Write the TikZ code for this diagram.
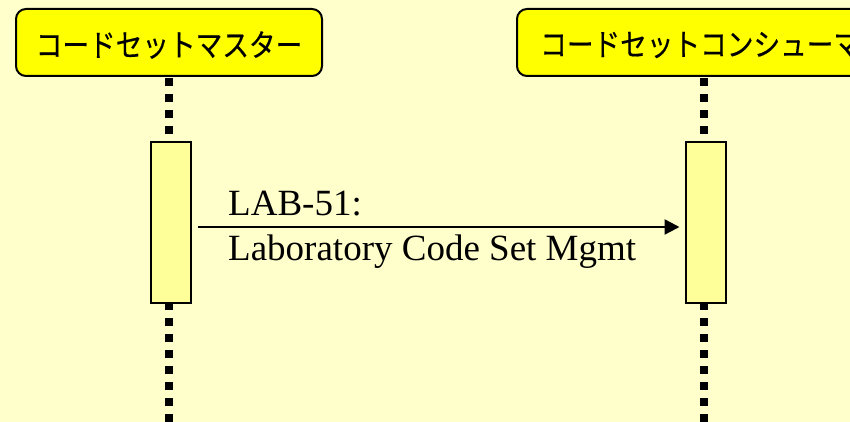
\documentclass[tikz,border=0pt]{standalone}
\usepackage{fontspec}
\setmainfont{Liberation Serif}
\newfontfamily\jpfont[FakeStretch=0.86,FakeBold=0.4]{Noto Sans CJK JP}
\usetikzlibrary{arrows.meta}
\definecolor{bgcream}{HTML}{FFFFCC}
\definecolor{hdryellow}{HTML}{FFFF00}
\definecolor{actyellow}{HTML}{FFFF99}
\tikzset{
  header/.style={draw=black, line width=2pt, fill=hdryellow, rounded corners=10pt,
    inner sep=0pt, minimum height=67pt},
  hdrtext/.style={font=\jpfont\fontsize{31}{34}\selectfont, inner sep=0pt},
  lifeline/.style={line width=8pt, dash pattern=on 8pt off 8pt},
  activation/.style={draw=black, line width=2pt, fill=actyellow,
    minimum width=40pt, minimum height=161pt, inner sep=0pt},
  msg/.style={line width=2.5pt, -{Triangle[length=15pt,width=15pt]}},
  msgtext/.style={font=\fontsize{37}{44}\selectfont, inner sep=0pt, anchor=base west}
}
\begin{document}
\begin{tikzpicture}[x=1pt, y=-1pt]
  \useasboundingbox (0,0) rectangle (850,422);
  \clip (0,0) rectangle (850,422);
  \fill[bgcream] (0,0) rectangle (850,422);

  % participant headers
  \node[header, minimum width=306pt] (hdrL) at (169,42.5) {};
  \node[hdrtext] (nameL) at (169,45) {コードセットマスター};
  \node[header, minimum width=380pt] (hdrR) at (707,42.5) {};
  \node[hdrtext, anchor=west] (nameR) at (540,45) {コードセットコンシューマ};

  % lifelines
  \coordinate (endL) at (169,440);
  \coordinate (endR) at (704,440);
  \draw[lifeline] ([yshift=-1pt]hdrL.south) -- (endL);
  \draw[lifeline] ([yshift=-1pt]hdrR.south -| endR) -- (endR);

  % activation bars
  \node[activation] (actL) at (171,222.5) {};
  \node[activation] (actR) at (705.5,222.5) {};

  % message
  \draw[msg, shorten <=6pt, shorten >=5pt] ([yshift=-4.5pt]actL.east) -- ([yshift=-4.5pt]actR.west);
  \node[msgtext] (lbl1) at (228,215) {LAB-51:};
  \node[msgtext] (lbl2) at (228,260) {Laboratory Code Set Mgmt};
\end{tikzpicture}
\end{document}
